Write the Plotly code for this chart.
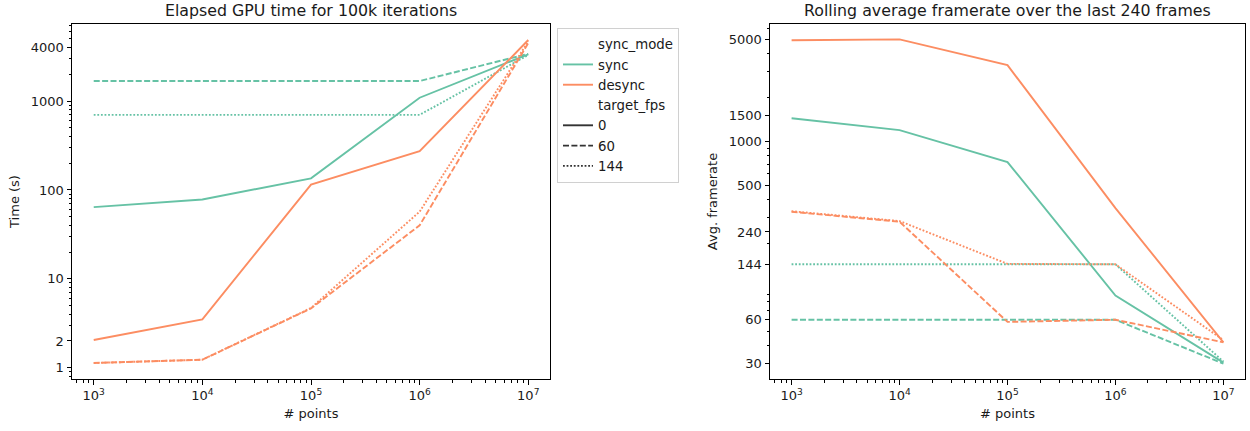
import plotly.graph_objects as go

# ---------------- data ----------------
points = [1e3, 1e4, 1e5, 1e6, 1e7]
x_tick_vals = [1e3, 1e4, 1e5, 1e6, 1e7]
x_tick_text = ["10<sup>3</sup>", "10<sup>4</sup>", "10<sup>5</sup>", "10<sup>6</sup>", "10<sup>7</sup>"]

# Elapsed GPU time (s)
time_sync_0 = [64, 78, 135, 1090, 3360]
time_sync_60 = [1680, 1680, 1680, 1680, 3400]
time_sync_144 = [700, 700, 700, 700, 3300]
time_desync_0 = [2.05, 3.5, 115, 273, 4860]
time_desync_60 = [1.13, 1.23, 4.65, 40, 4500]
time_desync_144 = [1.13, 1.23, 4.7, 57, 4700]

# Rolling average framerate
fps_sync_0 = [1445, 1197, 723, 88, 30.5]
fps_sync_60 = [60, 60, 60, 60, 30]
fps_sync_144 = [144, 144, 144, 144, 31]
fps_desync_0 = [4950, 5020, 3340, 350, 42]
fps_desync_60 = [330, 282, 58, 60, 42]
fps_desync_144 = [333, 285, 145, 144, 43.5]

time_tick_vals = [1, 2, 10, 100, 1000, 4000]
fps_tick_vals = [30, 60, 144, 240, 500, 1000, 1500, 5000]

sync_modes = ["sync", "desync"]
target_fps = ["0", "60", "144"]

# ---------------- styling ----------------
colors = {"sync": "#66c2a5", "desync": "#fc8d62"}
dashes = {"0": "solid", "60": "6px,2.4px", "144": "1.8px,1.8px"}
LW = 1.9
FONT = "DejaVu Sans"
TXT = "#1a1a1a"

time_data = {
    ("sync", "0"): time_sync_0, ("sync", "60"): time_sync_60, ("sync", "144"): time_sync_144,
    ("desync", "0"): time_desync_0, ("desync", "60"): time_desync_60, ("desync", "144"): time_desync_144,
}
fps_data = {
    ("sync", "0"): fps_sync_0, ("sync", "60"): fps_sync_60, ("sync", "144"): fps_sync_144,
    ("desync", "0"): fps_desync_0, ("desync", "60"): fps_desync_60, ("desync", "144"): fps_desync_144,
}

fig = go.Figure()

for (mode, fps), ys in time_data.items():
    fig.add_trace(go.Scatter(x=points, y=ys, mode="lines", xaxis="x", yaxis="y",
                             line=dict(color=colors[mode], width=LW, dash=dashes[fps]),
                             showlegend=False, hoverinfo="skip"))
for (mode, fps), ys in fps_data.items():
    fig.add_trace(go.Scatter(x=points, y=ys, mode="lines", xaxis="x2", yaxis="y2",
                             line=dict(color=colors[mode], width=LW, dash=dashes[fps]),
                             showlegend=False, hoverinfo="skip"))

# legend entries (seaborn-style with sub-headings)
def legend_entry(name, color, dash):
    fig.add_trace(go.Scatter(x=[None], y=[None], mode="lines", name=name, xaxis="x", yaxis="y",
                             line=dict(color=color, width=LW, dash=dash), showlegend=True))

legend_entry("sync_mode", "rgba(0,0,0,0)", "solid")
for m in sync_modes:
    legend_entry(m, colors[m], "solid")
legend_entry("target_fps", "rgba(0,0,0,0)", "solid")
for f in target_fps:
    legend_entry(f, "#333333", dashes[f])


def minor_vals(lo, hi, exclude):
    vals = []
    for k in range(-1, 8):
        for m in range(2, 10):
            v = m * 10 ** k
            if lo <= v <= hi and all(abs(v - e) / e > 1e-9 for e in exclude):
                vals.append(v)
    return vals


def xaxis_cfg(domain, anchor):
    return dict(type="log", domain=domain, anchor=anchor, range=[2.8, 7.2],
                tickmode="array", tickvals=x_tick_vals, ticktext=x_tick_text,
                ticks="outside", ticklen=4.5, tickwidth=1, tickcolor="black",
                showline=True, linecolor="black", linewidth=1, mirror=True,
                showgrid=False, zeroline=False,
                tickfont=dict(family=FONT, size=13, color=TXT),
                title=dict(text="# points", font=dict(family=FONT, size=13, color=TXT), standoff=6),
                minor=dict(tickmode="array", tickvals=minor_vals(600, 1.6e7, x_tick_vals),
                           ticks="outside", ticklen=2.5, tickwidth=0.8, tickcolor="black", showgrid=False))


def yaxis_cfg(domain, anchor, rng, tickvals, title):
    lo, hi = 10 ** rng[0], 10 ** rng[1]
    return dict(type="log", domain=domain, anchor=anchor, range=rng,
                tickmode="array", tickvals=tickvals, ticktext=[str(v) for v in tickvals],
                ticks="outside", ticklen=4.5, tickwidth=1, tickcolor="black",
                showline=True, linecolor="black", linewidth=1, mirror=True,
                showgrid=False, zeroline=False,
                tickfont=dict(family=FONT, size=13, color=TXT),
                title=dict(text=title, font=dict(family=FONT, size=13, color=TXT), standoff=8),
                minor=dict(tickmode="array", tickvals=minor_vals(lo, hi, tickvals),
                           ticks="outside", ticklen=2.5, tickwidth=0.8, tickcolor="black", showgrid=False))


W, H = 1250, 431
ML, MR, MT, MB = 72, 5, 24, 52
PW = W - ML - MR

fig.update_layout(
    width=W, height=H,
    margin=dict(l=ML, r=MR, t=MT, b=MB),
    paper_bgcolor="white", plot_bgcolor="white",
    font=dict(family=FONT, size=13, color=TXT),
    xaxis=xaxis_cfg([0, (550 - ML) / PW], "y"),
    yaxis=yaxis_cfg([0, 1], "x", [-0.127, 3.867], time_tick_vals, "Time (s)"),
    xaxis2=xaxis_cfg([(770 - ML) / PW, 1], "y2"),
    yaxis2=yaxis_cfg([0, 1], "x2", [1.372, 3.806], fps_tick_vals, "Avg. framerate"),
    legend=dict(x=(557 - ML) / PW, y=1 - (28 - MT) / (H - MT - MB), xanchor="left", yanchor="top",
                bgcolor="rgba(255,255,255,0.8)", bordercolor="#d0d0d0", borderwidth=1,
                font=dict(family=FONT, size=13.3, color=TXT), traceorder="normal",
                itemwidth=30, tracegroupgap=0),
    annotations=[
        dict(text="Elapsed GPU time for 100k iterations", xref="x domain", yref="paper",
             x=0.5, y=1, xanchor="center", yanchor="bottom", yshift=2, showarrow=False,
             font=dict(family=FONT, size=15.8, color=TXT)),
        dict(text="Rolling average framerate over the last 240 frames", xref="x2 domain", yref="paper",
             x=0.5, y=1, xanchor="center", yanchor="bottom", yshift=2, showarrow=False,
             font=dict(family=FONT, size=15.8, color=TXT)),
    ],
)

fig.write_html("out.html", config={"displayModeBar": False},
               post_script="document.body.style.margin='0';document.body.style.padding='0';")
